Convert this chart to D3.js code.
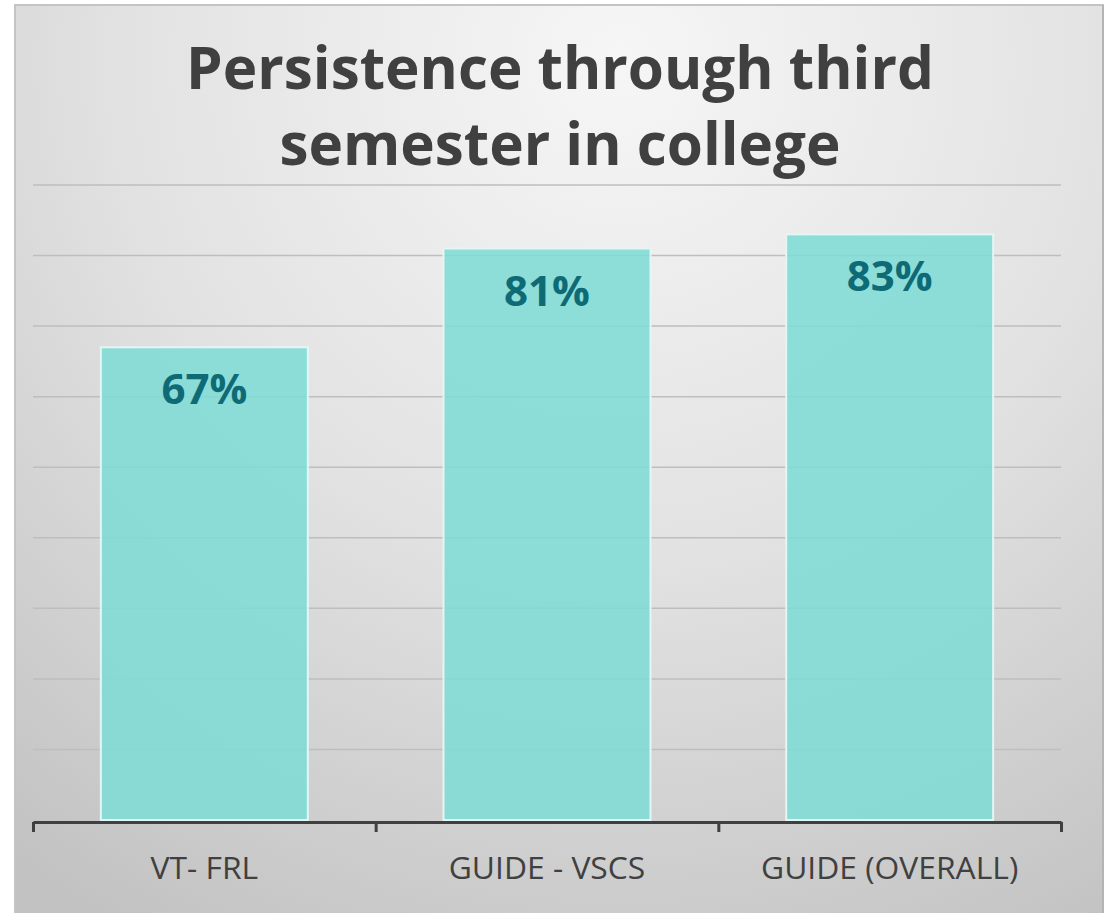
<!DOCTYPE html>
<html>
<head>
<meta charset="utf-8">
<script src="https://cdn.jsdelivr.net/npm/d3@7"></script>
<style>
  body { margin: 0; background: #fff; }
  svg { display: block; }
</style>
</head>
<body>
<svg class="canvas"></svg>
<script>
const categories = ['VT- FRL', 'GUIDE - VSCS', 'GUIDE (OVERALL)'];
const values = [0.67, 0.81, 0.83];
const labels = ['67%', '81%', '83%'];
const yTicks = [0, 0.1, 0.2, 0.3, 0.4, 0.5, 0.6, 0.7, 0.8, 0.9];
const titleLines = ['Persistence through third', 'semester in college'];

const w = 1106;
const h = 913;
const plotLeft = 33, plotRight = 1061, plotTop = 185, plotBottom = 820;

const svg = d3.select('svg.canvas')
  .attr('width', w)
  .attr('height', h);

// background
const defs = svg.append('defs');
const grad = defs.append('radialGradient')
  .attr('id', 'bg')
  .attr('gradientUnits', 'userSpaceOnUse')
  .attr('cx', 620).attr('cy', 60).attr('r', 1000);
grad.append('stop').attr('offset', '0%').attr('stop-color', '#f6f6f6');
grad.append('stop').attr('offset', '50%').attr('stop-color', '#e2e2e2');
grad.append('stop').attr('offset', '100%').attr('stop-color', '#c2c2c2');

svg.append('rect')
  .attr('x', 15).attr('y', 5)
  .attr('width', 1088).attr('height', 920)
  .attr('fill', 'url(#bg)')
  .attr('stroke', '#c4c4c4')
  .attr('stroke-width', 2);

svg.append('line')
  .attr('x1', 1103).attr('x2', 1103)
  .attr('y1', 5).attr('y2', h)
  .attr('stroke', '#b4b4b4').attr('stroke-width', 2);

// title
svg.append('text')
  .attr('text-anchor', 'middle')
  .attr('font-family', 'Open Sans')
  .attr('font-weight', 'bold')
  .attr('font-size', 58.4)
  .attr('fill', '#404040')
  .selectAll('tspan')
  .data(titleLines)
  .enter()
  .append('tspan')
  .attr('x', 560)
  .attr('y', (d, i) => 89 + i * 76)
  .text(d => d);

const xScale = d3.scaleBand()
  .domain(categories)
  .range([plotLeft, plotRight])
  .paddingInner(0.396)
  .paddingOuter(0.198);

const yScale = d3.scaleLinear()
  .domain([0, 0.9])
  .range([plotBottom, plotTop]);

// gridlines
svg.append('g')
  .selectAll('line')
  .data(yTicks.slice(1))
  .enter()
  .append('line')
  .attr('x1', plotLeft).attr('x2', plotRight)
  .attr('y1', d => yScale(d)).attr('y2', d => yScale(d))
  .attr('stroke', '#bebebe')
  .attr('stroke-width', 1.5);

// bars
svg.append('g')
  .selectAll('rect')
  .data(values)
  .enter()
  .append('rect')
  .attr('x', (d, i) => xScale(categories[i]))
  .attr('y', d => yScale(d))
  .attr('width', xScale.bandwidth())
  .attr('height', d => plotBottom - yScale(d))
  .attr('fill', '#7fdbd5')
  .attr('fill-opacity', 0.88)
  .attr('stroke', '#e4f6f4')
  .attr('stroke-width', 2);

// data labels
svg.append('g')
  .selectAll('text')
  .data(values)
  .enter()
  .append('text')
  .attr('x', (d, i) => xScale(categories[i]) + xScale.bandwidth() / 2)
  .attr('y', d => yScale(d) + 57)
  .attr('text-anchor', 'middle')
  .attr('font-family', 'Open Sans')
  .attr('font-weight', 'bold')
  .attr('font-size', 42)
  .attr('fill', '#0e6b76')
  .text((d, i) => labels[i]);

// x axis
const xAxis = d3.axisBottom(d3.scaleLinear().domain([0, 3]).range([plotLeft, plotRight]))
  .tickValues([0, 1, 2, 3])
  .tickSize(10)
  .tickSizeOuter(0)
  .tickFormat('');

const axisG = svg.append('g')
  .attr('transform', 'translate(0,' + (plotBottom + 2) + ')')
  .call(xAxis);
axisG.select('.domain').attr('stroke', '#404040').attr('stroke-width', 3);
axisG.selectAll('.tick line').attr('stroke', '#404040').attr('stroke-width', 3);

svg.append('g')
  .selectAll('text')
  .data(categories)
  .enter()
  .append('text')
  .attr('x', d => xScale(d) + xScale.bandwidth() / 2)
  .attr('y', 879)
  .attr('text-anchor', 'middle')
  .attr('font-family', 'Open Sans')
  .attr('font-size', 31.8)
  .attr('fill', '#404040')
  .text(d => d);
</script>
</body>
</html>
